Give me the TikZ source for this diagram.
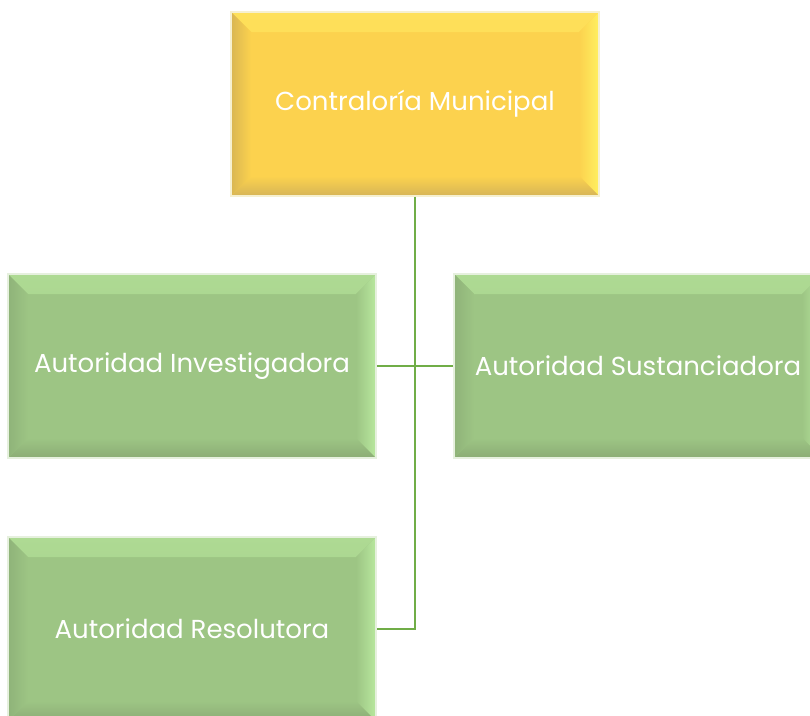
\documentclass[tikz,border=0pt]{standalone}
\usepackage{fontspec}
\setmainfont{Poppins}
\definecolor{ylfill}{HTML}{FCD24E}
\definecolor{yltop}{HTML}{FEE05A}
\definecolor{ylright}{HTML}{FFF060}
\definecolor{ylbot}{HTML}{D6B457}
\definecolor{ylleft}{HTML}{D9B652}
\definecolor{ylout}{HTML}{F6F0D0}
\definecolor{grfill}{HTML}{9DC584}
\definecolor{grtop}{HTML}{AEDA93}
\definecolor{grright}{HTML}{B8E89E}
\definecolor{grbot}{HTML}{8BAC75}
\definecolor{grleft}{HTML}{8FB379}
\definecolor{grout}{HTML}{E6F0DE}
\definecolor{conn}{HTML}{70AD47}
\newcommand{\bevelbox}[5]{%
  \shade[top color=#1, bottom color=#5] (path picture bounding box.north west) -- (path picture bounding box.north east) -- ([xshift=-20pt,yshift=-20pt]path picture bounding box.north east) -- ([xshift=20pt,yshift=-20pt]path picture bounding box.north west) -- cycle;
  \shade[right color=#2, left color=#5] (path picture bounding box.north east) -- (path picture bounding box.south east) -- ([xshift=-20pt,yshift=20pt]path picture bounding box.south east) -- ([xshift=-20pt,yshift=-20pt]path picture bounding box.north east) -- cycle;
  \shade[bottom color=#3, top color=#5] (path picture bounding box.south east) -- (path picture bounding box.south west) -- ([xshift=20pt,yshift=20pt]path picture bounding box.south west) -- ([xshift=-20pt,yshift=20pt]path picture bounding box.south east) -- cycle;
  \shade[left color=#4, right color=#5] (path picture bounding box.south west) -- (path picture bounding box.north west) -- ([xshift=20pt,yshift=-20pt]path picture bounding box.north west) -- ([xshift=20pt,yshift=20pt]path picture bounding box.south west) -- cycle;
}
\tikzset{
  orgbox/.style={rectangle, minimum width=368pt, minimum height=184pt, inner sep=0pt,
    text=white, font=\fontsize{26}{30}\selectfont, line width=1.5pt},
  ybox/.style={orgbox, fill=ylfill, draw=ylout,
    path picture={\bevelbox{yltop}{ylright}{ylbot}{ylleft}{ylfill}}},
  gbox/.style={orgbox, fill=grfill, draw=grout,
    path picture={\bevelbox{grtop}{grright}{grbot}{grleft}{grfill}}},
  link/.style={draw=conn, line width=2.2pt}
}
\begin{document}
\begin{tikzpicture}[x=1pt,y=-1pt]
\useasboundingbox (0,0) rectangle (810,715);
\clip (0,0) rectangle (810,715);
\node[ybox] (top) at (415,104) {Contraloría Municipal};
\node[gbox] (inv) at (192,366) {Autoridad Investigadora};
\node[gbox] (sus) at (638,366) {Autoridad Sustanciadora};
\node[gbox] (res) at (192,629) {Autoridad Resolutora};
\draw[link] (inv.east) -- (sus.west);
\draw[link] (top.south) -- (top.south |- res.east) -- (res.east);
\end{tikzpicture}
\end{document}
